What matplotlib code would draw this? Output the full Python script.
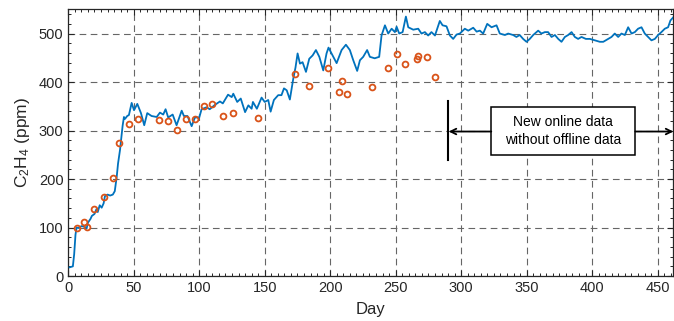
import matplotlib
matplotlib.use("Agg")
import matplotlib.pyplot as plt
from matplotlib.ticker import MultipleLocator
from matplotlib.patches import Rectangle

plt.rcParams['font.family'] = ['Liberation Sans', 'DejaVu Sans']
plt.rcParams['mathtext.fontset'] = 'custom'
plt.rcParams['mathtext.rm'] = 'Liberation Sans'
plt.rcParams['mathtext.it'] = 'Liberation Sans'

# Online (continuous) measurement
online_day = [1, 3.5, 4.5, 5.5, 6.3, 8, 10, 12, 14, 15, 17, 18, 20, 21.5, 22.5, 24, 25.5, 27, 28, 30,
              32, 34, 35.5, 37, 38, 39.5, 40.5, 41.5, 42.5, 43.3, 45, 46.3, 48.4, 50.2, 52.7, 55.5,
              58, 60.3, 63.6, 67.5, 70, 72.5, 74.3, 76.3, 79.7, 82.7, 86.6, 88.3, 91, 94.2, 96.7,
              100, 101.8, 105.6, 108, 112, 115.8, 118, 122, 124.8, 126, 129, 131.7, 135, 137.5,
              140, 141, 144, 147.6, 150, 152.7, 154.5, 157, 160.3, 162.8, 164.7, 166.8, 169.2,
              171.8, 173.5, 175.1, 176.9, 178.9, 181.5, 184, 186.6, 189.1, 191.7, 194.7, 197.2,
              198.7, 201, 204.9, 208.7, 212, 215, 217.6, 220.6, 222.7, 225.2, 228.2, 230.3, 234,
              237.4, 239.2, 241.8, 244.3, 246.9, 249.4, 250.7, 252.7, 255.3, 257.8, 259.6, 263.4,
              267.2, 269.7, 272.3, 274.8, 277.3, 280, 283.7, 285.8, 288.8, 291.4, 293.9, 296.5,
              299, 302.8, 305.4, 309.2, 311.8, 314.3, 316.8, 319.9, 323.2, 327, 329.5, 333.4,
              335.9, 339.7, 342.2, 344.7, 347.3, 349.9, 352.4, 355, 358.8, 361.3, 363.9, 366.4,
              369, 371.6, 374.1, 376.6, 379.2, 381.7, 384.3, 386.8, 389.3, 391.9, 395.2, 398.3,
              402.1, 405.9, 408.5, 412.2, 414.8, 417.3, 419.9, 422.4, 425, 427.5, 430.1, 432.6,
              435.1, 437.7, 440.2, 442.8, 445.3, 447.9, 450.4, 452.9, 455.5, 458, 459.8, 461.8]
online_ppm = [18, 20, 45, 85, 100, 99, 103, 102, 98, 110, 118, 124, 128, 138, 132, 146, 141, 150, 165, 168,
              166, 168, 175, 205, 232, 260, 285, 310, 328, 324, 330, 332, 357, 342, 355, 336,
              311, 336, 330, 328, 337, 333, 344, 327, 333, 311, 341, 330, 330, 309, 327,
              327, 344, 348, 344, 353, 360, 356, 374, 369, 376, 359, 366, 338, 352,
              345, 359, 345, 368, 359, 363, 339, 363, 373, 373, 387, 383, 364,
              407, 430, 459, 438, 441, 421, 448, 455, 466, 452, 424, 459,
              471, 459, 439, 466, 477, 466, 445, 423, 445, 452, 466, 452, 449,
              452, 496, 517, 500, 510, 503, 514, 500, 503, 535, 513, 508,
              510, 500, 503, 496, 503, 496, 526, 517, 515, 496, 489, 498,
              500, 510, 506, 512, 504, 506, 500, 520, 513, 517, 500, 497,
              500, 497, 493, 497, 489, 483, 489, 497, 506, 500, 503, 503,
              493, 497, 489, 483, 493, 497, 503, 493, 489, 493, 489, 489,
              486, 483, 483, 489, 493, 500, 493, 500, 497, 513, 500, 503,
              510, 513, 500, 493, 486, 489, 497, 503, 510, 513, 527, 533]

# Offline measurement
offline_day = [7, 12, 14, 20, 27, 34, 39, 46, 53, 69, 76, 83, 90, 97, 104, 110, 118, 126, 145,
               173, 184, 198, 209, 207, 213, 232, 244, 251, 257, 266, 267, 274, 280]
offline_ppm = [99, 111, 102, 139, 163, 202, 274, 314, 323, 321, 320, 301, 323, 324, 351, 354, 330, 336, 325,
               416, 391, 430, 402, 380, 375, 389, 430, 458, 438, 447, 453, 451, 411]

x_ticks = [0, 50, 100, 150, 200, 250, 300, 350, 400, 450]
y_ticks = [0, 100, 200, 300, 400, 500]
annot_text = "New online data\nwithout offline data"

fig = plt.figure(figsize=(6.74, 3.21), dpi=100)
ax = fig.add_axes([0.1013, 0.140, 0.8977, 0.831])

ax.plot(online_day, online_ppm, color='#0072BD', lw=1.3, zorder=3)
ax.plot(offline_day, offline_ppm, linestyle='none', marker='o', markersize=4.2,
        markerfacecolor='none', markeredgecolor='#D95319', markeredgewidth=1.3, zorder=4)

ax.set_xlim(0, 462)
ax.set_ylim(0, 550)
ax.set_xticks(x_ticks)
ax.set_yticks(y_ticks)
ax.xaxis.set_minor_locator(MultipleLocator(5))
ax.yaxis.set_minor_locator(MultipleLocator(20))
ax.tick_params(which='both', direction='in', top=True, right=True, colors='#262626',
               labelsize=10.5, labelcolor='#262626')
ax.tick_params(which='major', length=4.5, width=0.8)
ax.tick_params(which='minor', length=2.5, width=0.7)
for s in ax.spines.values():
    s.set_color('#262626')
    s.set_linewidth(0.9)
ax.grid(True, which='major', linestyle=(0, (6, 4)), color='#666666', lw=0.8)
ax.set_axisbelow(True)

ax.set_xlabel('Day', fontsize=12, color='#262626', labelpad=5)
ax.set_ylabel('C$_{2}$H$_{4}$ (ppm)', fontsize=12.5, color='#262626', labelpad=5)

# Annotation
ax.plot([290, 290], [240, 360], color='black', lw=1.5, zorder=5)
ax.add_patch(Rectangle((323, 249), 110, 100, facecolor='white', edgecolor='black', lw=1.1, zorder=6))
ax.text(378, 299, annot_text, ha='center', va='center', fontsize=10, zorder=7, linespacing=1.3)
ax.annotate('', xy=(290.5, 298), xytext=(323, 298),
            arrowprops=dict(arrowstyle='->', color='black', lw=1.3, shrinkA=0, shrinkB=0), zorder=6)
ax.annotate('', xy=(462, 298), xytext=(433, 298),
            arrowprops=dict(arrowstyle='->', color='black', lw=1.3, shrinkA=0, shrinkB=0),
            annotation_clip=False, zorder=6)

fig.savefig('out.png', dpi=100)
